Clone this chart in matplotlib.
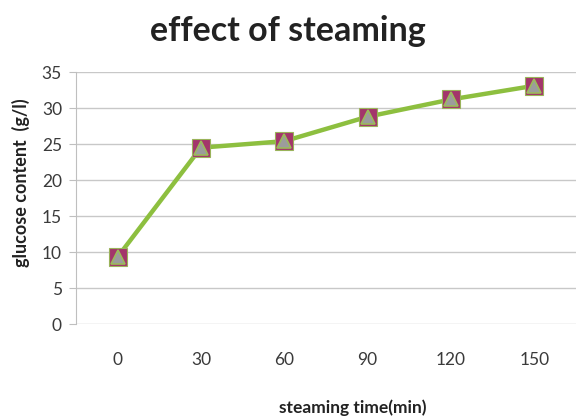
import numpy as np
import matplotlib
matplotlib.use('Agg')
from matplotlib import pyplot as plt

# steaming time (min) and measured glucose content (g/l)
times = ['0', '30', '60', '90', '120', '150']
glucose = [9.3, 24.5, 25.4, 28.8, 31.2, 33.1]

plt.rcParams['font.family'] = ['Lato', 'DejaVu Sans']

fig = plt.figure(figsize=(5.79, 4.19), dpi=100)
ax = fig.add_axes([0.131, 0.2267, 0.864, 0.6013])

x = np.arange(len(times))
ax.plot(x, glucose, color='#8DBF3F', lw=3.2, zorder=3)
ax.plot(x, glucose, ls='none', marker='s', ms=12.5, mfc='#A3356B',
        mec='#9AB35A', mew=0.8, zorder=4)
ax.plot(x, glucose, ls='none', marker='^', ms=10, mfc='#9C9C9C',
        mec='#9BBB59', mew=1.2, zorder=5)

ax.set_xlim(-0.5, len(times) - 0.5)
ax.set_ylim(0, 35)
ax.set_yticks(range(0, 36, 5))
ax.set_xticks(x)
ax.set_xticklabels(times)

ax.grid(axis='y', color='#C8C8C8', lw=1)
ax.set_axisbelow(True)
for s in ['top', 'right', 'bottom']:
    ax.spines[s].set_visible(False)
ax.spines['left'].set_color('#BFBFBF')
ax.tick_params(axis='y', length=5, color='#BFBFBF', labelsize=12.5, pad=5, labelcolor='#3A3A3A')
ax.tick_params(axis='x', length=0, labelsize=12.5, pad=20, labelcolor='#3A3A3A')

fig.text(0.497, 0.925, 'effect of steaming', ha='center', va='center',
         fontsize=24.5, fontweight='bold', color='#222222')
fig.text(0.036, 0.563, 'glucose content  (g/l)', ha='center', va='center',
         rotation=90, fontsize=13, fontweight='bold', color='#222222')
fig.text(0.61, 0.026, 'steaming time(min)', ha='center', va='center',
         fontsize=12.5, fontweight='bold', color='#222222')

fig.savefig('out.png', dpi=100)
